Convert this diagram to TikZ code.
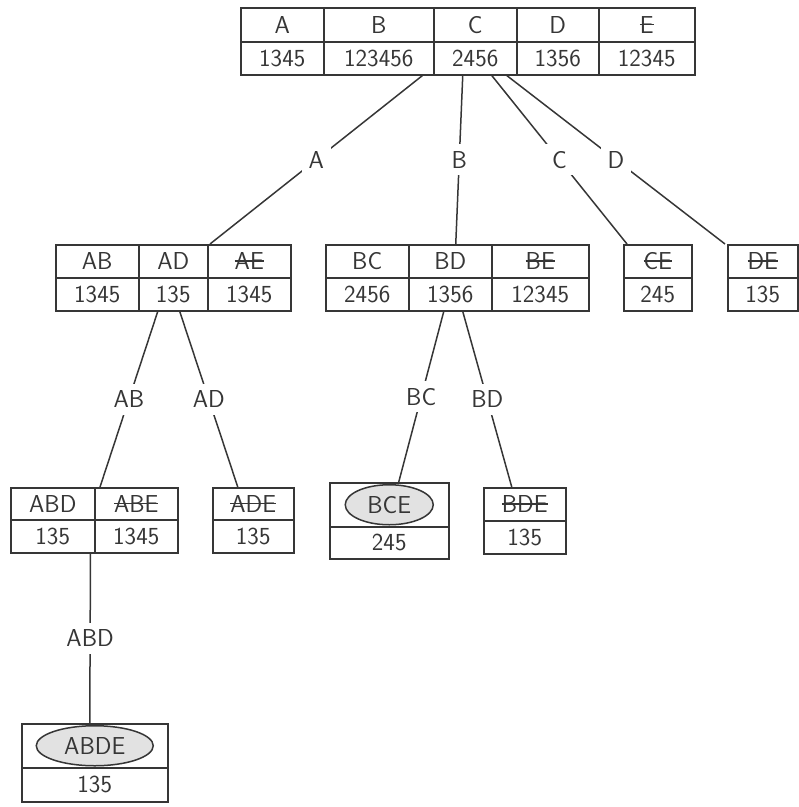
\documentclass[tikz,border=0pt]{standalone}
\usepackage{fontspec}
\usepackage{xcolor}
\usepackage{tikz}
\usetikzlibrary{shapes.geometric}

\definecolor{inkgray}{HTML}{363636}
\definecolor{fillgray}{HTML}{E2E2E2}

\newsavebox{\strikebox}
\newcommand{\struck}[1]{\sbox{\strikebox}{#1}\rlap{\rule[0.32em]{\wd\strikebox}{0.06em}}\usebox{\strikebox}}

\tikzset{
  cell/.style 2 args={draw=inkgray, line width=1.5pt, inner sep=0pt, anchor=north west,
    text=inkgray, minimum width=#1pt, minimum height=#2pt},
  edge/.style={draw=inkgray, line width=1.5pt},
  elabel/.style={midway, fill=white, inner sep=7pt, text=inkgray},
  frequent/.style={ellipse, draw=inkgray, line width=1.5pt, fill=fillgray, inner sep=0pt, text=inkgray}
}

\begin{document}
\begin{tikzpicture}[x=1pt, y=-1pt, font=\sffamily\fontsize{24.5}{29}\selectfont]
    \useasboundingbox (0,0) rectangle (799,807);

    % root: single items
    \foreach \name/\x/\w/\hd/\sp in {A/240/83/A/1345, B/323/110/B/123456, C/433/83/C/2456,
                                     D/516/82/D/1356, E/598/96/\struck{E}/12345} {
        \node[cell={\w}{34}] (h\name) at (\x,7) {\hd};
        \node[cell={\w}{33}] (s\name) at (\x,41) {\sp};
    }

    % second level
    \node[cell={83}{33}] (hAB) at (55,244)  {AB};
    \node[cell={69}{33}] (hAD) at (138,244) {AD};
    \node[cell={83}{33}] (hAE) at (207,244) {\struck{AE}};
    \node[cell={83}{33}] (sAB) at (55,277)  {1345};
    \node[cell={69}{33}] (sAD) at (138,277) {135};
    \node[cell={83}{33}] (sAE) at (207,277) {1345};

    \node[cell={83}{33}] (hBC) at (325,244) {BC};
    \node[cell={83}{33}] (hBD) at (408,244) {BD};
    \node[cell={97}{33}] (hBE) at (491,244) {\struck{BE}};
    \node[cell={83}{33}] (sBC) at (325,277) {2456};
    \node[cell={83}{33}] (sBD) at (408,277) {1356};
    \node[cell={97}{33}] (sBE) at (491,277) {12345};

    \node[cell={68}{33}] (hCE) at (623,244) {\struck{CE}};
    \node[cell={68}{33}] (sCE) at (623,277) {245};
    \node[cell={70}{33}] (hDE) at (727,244) {\struck{DE}};
    \node[cell={70}{33}] (sDE) at (727,277) {135};

    % third level
    \node[cell={84}{32}] (hABD) at (10,487) {ABD};
    \node[cell={83}{32}] (hABE) at (94,487) {\struck{ABE}};
    \node[cell={84}{33}] (sABD) at (10,519) {135};
    \node[cell={83}{33}] (sABE) at (94,519) {1345};
    \node[cell={81}{32}] (hADE) at (212,487) {\struck{ADE}};
    \node[cell={81}{33}] (sADE) at (212,519) {135};

    \node[cell={119}{44}] (hBCE) at (329,482) {};
    \node[frequent, minimum width=88pt, minimum height=40pt] (eBCE) at (hBCE.center) {BCE};
    \node[cell={119}{32}] (sBCE) at (329,526) {245};
    \node[cell={82}{33}] (hBDE) at (483,487) {\struck{BDE}};
    \node[cell={82}{33}] (sBDE) at (483,520) {135};

    % fourth level
    \node[cell={146}{44}] (hABDE) at (21,723) {};
    \node[frequent, minimum width=117pt, minimum height=40pt] (eABDE) at (hABDE.center) {ABDE};
    \node[cell={146}{34}] (sABDE) at (21,767) {135};

    % branches
    \draw[edge] ([xshift=-12pt]sB.south east) -- node[elabel] {A} ([xshift=3pt]hAE.north west);
    \draw[edge] ([xshift=-12.5pt]sC.south) -- node[elabel] {B} ([xshift=5.5pt]hBD.north);
    \draw[edge] ([xshift=16.5pt]sC.south) -- node[elabel] {C} ([xshift=4pt]hCE.north west);
    \draw[edge] ([xshift=31.5pt]sC.south) -- node[elabel] {D} ([xshift=-2pt]hDE.north west);
    \draw[edge] ([xshift=-15.5pt]sAD.south) -- node[elabel] {AB} ([xshift=6pt]hABE.north west);
    \draw[edge] ([xshift=6.5pt]sAD.south) -- node[elabel] {AD} ([xshift=-15.5pt]hADE.north);
    \draw[edge] ([xshift=-6.5pt]sBD.south) -- node[elabel] {BC} ([xshift=9.5pt]hBCE.north);
    \draw[edge] ([xshift=12.5pt]sBD.south) -- node[elabel] {BD} ([xshift=-13pt]hBDE.north);
    \draw[edge] ([xshift=-5pt]sABD.south east) -- node[elabel] {ABD} ([xshift=-5pt]hABDE.north);
\end{tikzpicture}
\end{document}
